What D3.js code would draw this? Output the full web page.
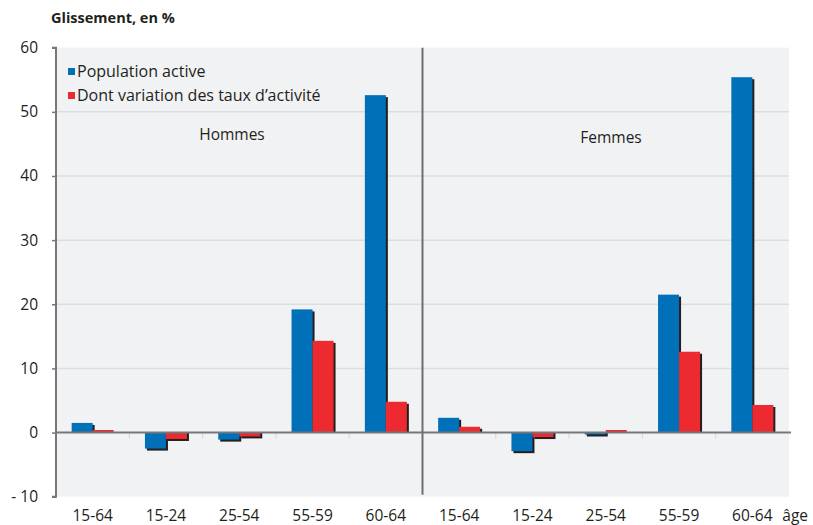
<!DOCTYPE html>
<html><head><meta charset="utf-8">
<script src="https://cdn.jsdelivr.net/npm/d3@7"></script>
<style>body{margin:0;background:#fff}svg{display:block}text{font-family:"Open Sans","Noto Sans",sans-serif}</style>
</head><body><svg id="c" width="813" height="525"></svg>
<script>
const groups = ["Hommes","Hommes","Hommes","Hommes","Hommes","Femmes","Femmes","Femmes","Femmes","Femmes"];
const ages = ["15-64","15-24","25-54","55-59","60-64","15-64","15-24","25-54","55-59","60-64"];
const populationActive = [1.5,-2.5,-1.1,19.2,52.6,2.3,-2.9,-0.3,21.5,55.4];
const variationTaux = [0.4,-1.0,-0.6,14.3,4.8,0.9,-0.7,0.4,12.6,4.3];
const seriesNames = ["Population active","Dont variation des taux d’activité"];
const seriesColors = ["#0070b8","#ec2a30"];
const yTicks = [-10,0,10,20,30,40,50,60];
const panelLabels = ["Hommes","Femmes"];

const svg = d3.select("#c");
const L=56, R=789, T=47.7, B=496.7;
const y = d3.scaleLinear().domain([-10,60]).range([B,T]);
const idx = d3.range(ages.length);
const x0 = d3.scaleBand().domain(idx).range([L,R]).padding(0);
const x1 = d3.scaleBand().domain([0,1]).range([0,x0.bandwidth()]).paddingInner(0).paddingOuter(0.745);

svg.append("rect").attr("x",L).attr("y",T).attr("width",R-L).attr("height",B-T).attr("fill","#f1f2f4");
// gridlines
svg.append("g").selectAll("line").data(yTicks.filter(v=>v>0&&v<60)).join("line")
  .attr("x1",L).attr("x2",R).attr("y1",d=>y(d)).attr("y2",d=>y(d))
  .attr("stroke","#dcdde0").attr("stroke-width",1.5);

// bars
const series=[populationActive,variationTaux];
const gb = svg.append("g");
idx.forEach(i=>{
  [0,1].forEach(s=>{
    const v=series[s][i];
    const bx=x0(i)+x1(s), bw=x1.bandwidth();
    const by=y(Math.max(0,v)), bh=Math.abs(y(v)-y(0));
    if (v>=0) {
      gb.append("rect").attr("x",bx+2).attr("y",by+2).attr("width",bw).attr("height",Math.max(0,bh-2)).attr("fill","#231f20");
    } else {
      gb.append("rect").attr("x",bx+2).attr("y",by).attr("width",bw).attr("height",bh+2).attr("fill","#231f20");
    }
    gb.append("rect").attr("x",bx).attr("y",by).attr("width",bw).attr("height",bh).attr("fill",seriesColors[s]);
  });
});

// x ticks at group boundaries
svg.append("g").selectAll("line").data(d3.range(1,ages.length)).join("line")
  .attr("x1",d=>x0(d)).attr("x2",d=>x0(d)).attr("y1",y(0)).attr("y2",y(0)+6)
  .attr("stroke","#d4d5d8").attr("stroke-width",1);

// zero line
svg.append("line").attr("x1",L).attr("x2",R+2).attr("y1",y(0)).attr("y2",y(0)).attr("stroke","#76777a").attr("stroke-width",2);
// mid separator
const mid = x0(5);
svg.append("line").attr("x1",mid).attr("x2",mid).attr("y1",T).attr("y2",B-2).attr("stroke","#6d6e71").attr("stroke-width",2);

// y axis
const yAxis = d3.axisLeft(y).tickValues(yTicks).tickSize(4).tickFormat(d=>d<0?"- "+Math.abs(d):d);
const ga = svg.append("g").attr("transform",`translate(${L},0)`).call(yAxis);
ga.select(".domain").attr("stroke","#76777a").attr("stroke-width",2).attr("d",`M-4,${T}H0V${B}H-4`);
ga.selectAll(".tick line").attr("stroke","#76777a").attr("stroke-width",1.5);
ga.selectAll(".tick text").attr("x",-18).attr("font-size",15.5).attr("fill","#231f20").style("font-family","'Open Sans',sans-serif");

// x labels
svg.append("g").selectAll("text").data(idx).join("text")
  .attr("x",i=>x0(i)+x0.bandwidth()/2).attr("y",521)
  .attr("text-anchor","middle").attr("font-size",15.5).attr("fill","#231f20").text(i=>ages[i]);
svg.append("text").attr("x",x0(9)+x0.bandwidth()/2+30).attr("y",521).attr("font-size",15.5).attr("fill","#231f20").text("âge");

// title
svg.append("text").attr("x",51).attr("y",23).attr("font-size",14.5).attr("font-weight","bold").attr("fill","#231f20").text("Glissement, en %");

// panel labels
svg.append("text").attr("x",232).attr("y",140).attr("text-anchor","middle").attr("font-size",15.5).attr("fill","#231f20").text(panelLabels[0]);
svg.append("text").attr("x",611).attr("y",143).attr("text-anchor","middle").attr("font-size",15.5).attr("fill","#231f20").text(panelLabels[1]);

// legend
seriesNames.forEach((n,k)=>{
  const ly = 68 + k*24;
  svg.append("rect").attr("x",68).attr("y",ly).attr("width",7).attr("height",7).attr("fill",seriesColors[k]);
  svg.append("text").attr("x",77).attr("y",ly+9).attr("font-size",16).attr("fill","#231f20").text(n);
});
</script></body></html>
